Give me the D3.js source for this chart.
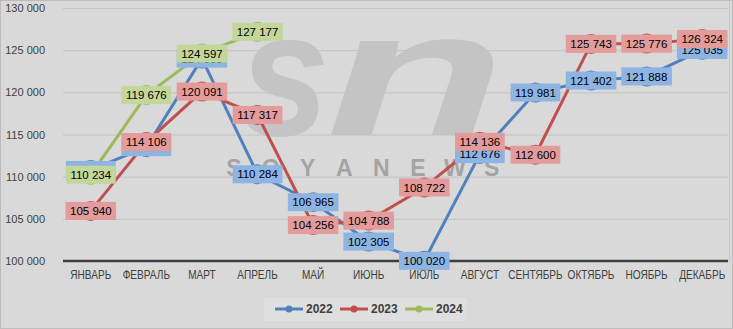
<!DOCTYPE html>
<html>
<head>
<meta charset="utf-8">
<script src="https://cdn.jsdelivr.net/npm/d3@7"></script>
<style>
  body { margin: 0; background: #d9d9d9; }
  svg { display: block; }
</style>
</head>
<body>
<svg width="733" height="329"></svg>
<script>
const months = ['ЯНВАРЬ', 'ФЕВРАЛЬ', 'МАРТ', 'АПРЕЛЬ', 'МАЙ', 'ИЮНЬ', 'ИЮЛЬ', 'АВГУСТ', 'СЕНТЯБРЬ', 'ОКТЯБРЬ', 'НОЯБРЬ', 'ДЕКАБРЬ']
const years = ['2022', '2023', '2024']
const v2022 = [110800, 113500, 124000, 110284, 106965, 102305, 100020, 112676, 119981, 121402, 121888, 125035]
const v2023 = [105940, 114106, 120091, 117317, 104256, 104788, 108722, 114136, 112600, 125743, 125776, 126324]
const v2024 = [110234, 119676, 124597, 127177]
const yTicks = [100000, 105000, 110000, 115000, 120000, 125000, 130000]

const lineColors = ['#4f81bd', '#c0504d', '#9bbb59']
const boxColors = ['#8db4e2', '#e39c9b', '#c3d79b']

const width = 733, height = 329
const svg = d3.select('svg')
const fontNum = '"Liberation Sans", Arial, sans-serif'

svg.append('rect')
  .attr('x', 0.5).attr('y', 0.5)
  .attr('width', width - 1).attr('height', height - 1)
  .attr('fill', '#d9d9d9')
  .attr('stroke', '#bcbcbc')

const x = d3.scaleBand().domain(months).range([63, 730])
const y = d3.scaleLinear().domain([100000, 130000]).range([261, 8])
const cx = d => x(d) + x.bandwidth() / 2
const fmt = v => d3.format(',')(v).replace(/,/g, ' ')

// watermark, behind everything
const wm = svg.append('g').attr('fill', '#c4c4c4')
wm.append('text')
  .attr('transform', 'translate(240,135) scale(0.9,1)')
  .style('font', 'italic bold 178px "Liberation Sans", Arial, sans-serif')
  .text('s')
wm.append('text')
  .attr('transform', 'translate(326,135) scale(1.65,1)')
  .style('font', 'italic bold 178px "Liberation Sans", Arial, sans-serif')
  .text('n')
'SOYANEWS'.split('').forEach((c, i) => {
  svg.append('text')
    .attr('x', 234 + i * 36.8)
    .attr('y', 176)
    .attr('text-anchor', 'middle')
    .style('font', 'bold 23px "Liberation Sans", Arial, sans-serif')
    .attr('fill', '#a4a4a4')
    .text(c)
})

// gridlines
const grid = svg.append('g')
  .attr('transform', 'translate(63,0)')
  .call(d3.axisLeft(y).tickValues(yTicks).tickSize(-665).tickFormat(''))
grid.select('.domain').remove()
grid.selectAll('line').attr('stroke', '#c2c2c2')

svg.append('line')
  .attr('x1', 729.5).attr('x2', 729.5)
  .attr('y1', 0).attr('y2', 262)
  .attr('stroke', '#c8c8c8')

// y labels
const yAxis = svg.append('g')
  .attr('transform', 'translate(45,0)')
  .call(d3.axisLeft(y).tickValues(yTicks).tickSize(0).tickPadding(0).tickFormat(fmt))
yAxis.select('.domain').remove()
yAxis.selectAll('text')
  .attr('fill', '#404040')
  .style('font', '11px ' + fontNum)

// x axis
const xAxis = svg.append('g')
  .attr('transform', 'translate(0,261)')
  .call(d3.axisBottom(x).tickSize(0).tickPadding(9))
xAxis.select('.domain').remove()
xAxis.selectAll('text')
  .attr('fill', '#404040')
  .attr('transform', 'scale(0.84,1)')
  .style('font', '12px ' + fontNum)

svg.append('line')
  .attr('x1', 63).attr('x2', 728)
  .attr('y1', 261).attr('y2', 261)
  .attr('stroke', '#404040')
  .attr('stroke-width', 2.5)

const series = [v2022, v2023, v2024].map((vals, i) => ({
  year: years[i],
  i: i,
  points: vals.map((v, j) => ({ m: months[j], v: v }))
}))

const line = d3.line().x(d => cx(d.m)).y(d => y(d.v))

series.forEach(s => {
  svg.append('path')
    .attr('d', line(s.points))
    .attr('fill', 'none')
    .attr('stroke', lineColors[s.i])
    .attr('stroke-width', 3)
  svg.append('g').selectAll('circle')
    .data(s.points)
    .join('circle')
    .attr('cx', d => cx(d.m))
    .attr('cy', d => y(d.v))
    .attr('r', 10)
    .attr('fill', lineColors[s.i])
})

series.forEach(s => {
  const g = svg.append('g').selectAll('g')
    .data(s.points)
    .join('g')
    .attr('transform', d => `translate(${cx(d.m)},${y(d.v)})`)
  g.append('rect')
    .attr('fill', boxColors[s.i])
  const t = g.append('text')
    .attr('text-anchor', 'middle')
    .attr('dy', '0.36em')
    .attr('fill', '#000')
    .style('font', '11.5px ' + fontNum)
    .text(d => fmt(d.v))
  t.each(function () {
    const w = this.getComputedTextLength() + 9
    d3.select(this.previousSibling)
      .attr('x', -w / 2).attr('y', -9)
      .attr('width', w).attr('height', 18)
  })
})

// legend
const lg = svg.append('g')
lg.append('rect')
  .attr('x', 264).attr('y', 298)
  .attr('width', 203).attr('height', 23)
  .attr('fill', '#dfdfdf')
years.forEach((yr, i) => {
  const x0 = 275 + i * 65
  lg.append('line')
    .attr('x1', x0).attr('x2', x0 + 28)
    .attr('y1', 309).attr('y2', 309)
    .attr('stroke', lineColors[i])
    .attr('stroke-width', 3)
  lg.append('circle')
    .attr('cx', x0 + 14).attr('cy', 309).attr('r', 3.5)
    .attr('fill', lineColors[i])
  lg.append('text')
    .attr('x', x0 + 31).attr('y', 313)
    .attr('fill', '#404040')
    .style('font', 'bold 12px ' + fontNum)
    .text(yr)
})
</script>
</body>
</html>
